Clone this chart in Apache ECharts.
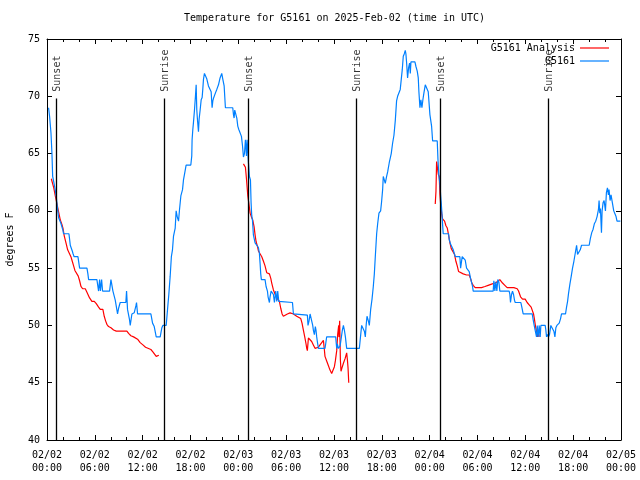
<!DOCTYPE html>
<html>
<head>
<meta charset="utf-8">
<script src="https://cdn.jsdelivr.net/npm/echarts@6/dist/echarts.min.js"></script>
<style>html,body{margin:0;padding:0;background:#fff}#c{width:640px;height:480px}</style>
</head>
<body>
<div id="c"></div>
<script>
// hours since 2025-02-02 00:00 UTC, temperature (F)
var obsData = [
[0.2,69],[0.33,68.2],[0.5,66.8],[0.62,65],[0.71,63],[0.83,62.6],[1.04,61.8],[1.17,61.2],[1.25,60.6],[1.46,59.4],[1.75,58.9],[2.0,58.3],[2.08,58],[2.75,58],
[2.84,57.5],[2.92,57],[3.13,57],[3.17,56.5],[3.25,56.3],[3.4,56],[3.88,56],[4.09,55],[5.01,55],[5.13,54.5],[5.22,54],[6.26,54],[6.47,53],[6.6,54],[6.7,53],[6.85,54],[6.97,53],[7.85,53],[8.02,54],[8.14,54],[8.27,53],
[8.56,52.2],[8.77,52.2],[8.85,51],[8.98,51.5],[9.18,52],[9.89,52],[9.98,53],[10.1,51.4],[10.35,50.5],[10.44,50],[10.65,51],[10.94,51.1],[11.15,51.7],[11.23,52],[11.36,51],[13.03,51],[13.24,50.2],[13.45,49.9],[13.7,49],[14.2,49],[14.41,49.8],[14.53,50],[14.95,50],
[15.12,51.4],[15.28,52.7],[15.45,54.3],[15.6,56],[15.74,56.6],[15.87,57.8],[16.08,58.5],[16.2,60],[16.33,59.5],[16.5,59.1],[16.62,60.1],[16.79,61.3],[17.0,61.85],[17.12,62.7],[17.25,63.2],[17.45,64],[18.04,64],[18.16,64.8],[18.2,66.2],[18.29,67.1],[18.37,67.7],[18.5,68.8],[18.62,70],[18.71,71],[18.79,68.8],[18.87,68],[19.0,66.9],[19.08,68],[19.21,68.8],[19.34,69.7],[19.46,69.9],[19.54,70.6],[19.63,71.5],[19.75,72],[19.92,72],[20.05,71.5],[20.25,70.9],[20.46,71],[20.59,70.4],[20.71,69],[20.8,69.6],[20.92,69.9],[21.13,70.3],[21.3,70.6],[21.51,71],[21.71,71.6],[21.92,72],[22.05,71.5],[22.22,70.9],[22.38,69],[23.3,69],
[23.39,68.4],[23.47,68.1],[23.55,68.8],[23.68,68.7],[23.81,68.1],[23.93,67.4],[24.06,67.1],[24.22,67.1],[24.39,66.5],[24.52,65.7],[24.64,64.7],[24.77,65],[24.89,66.2],[25.02,64.8],[25.1,66.2],[25.19,66.1],[25.27,64.2],[25.39,63],[25.52,62.7],[25.6,60.7],[25.68,59.6],[25.77,59.2],
[25.89,57.9],[26.1,57.2],[26.31,57.1],[26.52,56.8],[26.64,56.3],[26.73,55.4],[26.81,54.5],[26.89,54],[27.35,54],[27.48,53.4],[27.65,53],[27.73,52.5],[27.9,52],[27.98,52.5],[28.11,53],[28.28,53],[28.4,52.7],[28.53,52],[28.69,53],[28.82,52.1],[28.94,53],[29.07,52.1],[29.24,52],[30.79,52],[30.91,51],[32.66,50.9],[32.74,50],[32.87,50.4],[33.0,51],[33.12,51],[33.2,50.4],[33.33,50],[33.41,49.6],[33.54,49.2],[33.66,49.9],[33.74,49.6],[33.83,49],[33.91,48.6],[34.04,48],[34.87,48],[34.96,48.4],[35.08,49],[36.21,49],[36.34,48],[36.42,48.4],[36.55,48],[36.76,48.2],[36.93,49],[37.05,49.6],[37.18,50],[37.3,49.6],[37.43,49],[37.59,48],[39.18,48],
[39.35,49.2],[39.47,50],[39.68,50],[39.81,49.5],[39.93,49],[40.02,49.9],[40.14,50.8],[40.31,50.4],[40.43,50],[40.6,51.4],[40.77,52.3],[40.93,53.4],[41.06,54.5],[41.18,56],[41.35,58],[41.48,58.9],
[41.64,59.8],[41.85,60],[41.97,60.8],[42.1,61.85],[42.18,63],[42.31,62.7],[42.43,62.4],[42.6,63],[42.73,63.4],[42.93,64.2],[43.18,65],[43.35,65.9],[43.52,66.6],[43.69,67.9],[43.85,69.6],[43.98,70],[44.19,70.1],[44.31,70.6],[44.44,71.5],[44.56,72.3],[44.69,73.5],[44.81,73.7],[44.94,74],[45.02,73.7],[45.11,72.9],[45.23,71.6],[45.36,72.5],[45.48,72.9],[45.57,72],[45.65,73],[46.15,73],[46.28,72.6],[46.44,72.2],[46.57,71.6],[46.65,70.4],
[46.78,69],[46.9,69.7],[47.03,69],[47.15,69.7],[47.28,70.3],[47.45,71],[47.7,71],[47.82,70.4],[48.03,68.4],[48.24,67.4],[48.37,66.1],[48.95,66.1],[49.04,64.5],[49.16,63],[49.29,62.4],[49.37,61.4],[49.45,60.7],[49.54,59.8],[49.62,58.8],[49.7,58],[50.37,58],
[50.45,57.5],[50.62,57.1],[50.87,57],[50.96,56.6],[51.08,56.3],[51.21,56],[51.79,56],[51.88,55],[51.96,55.4],[52.08,56],[52.33,56],[52.46,55.7],[52.63,55],[52.79,55],[52.96,54.7],[53.13,54.1],[53.25,54],[53.38,53.4],[53.46,53],[55.97,53],[56.05,53.9],[56.18,53],[56.3,53.8],[56.43,53],[56.55,54],[56.68,53.8],[56.8,53],[57.97,53],[58.06,52.7],[58.14,52],[58.27,52.7],[58.39,53],[58.52,52.7],[58.64,52.2],[58.73,52],[59.44,52],[59.56,51.6],[59.73,51],[60.86,51],[60.98,50.5],[61.11,50],[61.32,50],[61.4,49],[61.49,50],[61.61,49],[61.74,50],[61.86,49],[61.95,50],[62.49,50],[62.57,49.6],[62.66,49],[62.78,49.2],[62.91,49],[63.03,49.2],[63.2,50],[63.41,50],[63.58,49.5],[63.71,49],[63.83,49.8],[63.96,50],[64.12,50],[64.25,50.2],[64.42,50.6],[64.54,51],[65.04,51],
[65.17,51.6],[65.3,52.1],[65.42,52.8],[65.59,53.6],[65.76,54.3],[65.92,55],[66.09,55.6],[66.26,56.3],[66.43,57],[66.55,56.2],[66.72,56.2],[66.89,56.6],[67.05,57],[68.01,57],[68.16,57.6],[68.33,58.1],[68.5,58.4],[68.67,58.9],[68.83,59.1],[69.0,59.5],[69.17,60.1],[69.25,60.9],[69.34,59.8],[69.42,60.2],[69.55,58.1],[69.63,60],[69.75,60.7],[69.88,60.9],[70.05,60],[70.17,61.6],[70.3,62],[70.42,61.4],[70.5,61.85],[70.63,60.9],[70.75,61.4],[70.92,60.7],[71.09,60],[71.21,60],[71.38,59.5],[71.5,59.1],[71.92,59.1]
];

var analysisSeg1 = [
[0.54,62.8],[0.75,62.8],[0.85,62.0],[1.04,61.3],[1.25,60.6],[1.46,59.9],[1.67,59.2],[1.88,58.8],[2.0,58.5],[2.17,57.8],[2.42,57.1],[2.59,56.6],[2.84,56.5],[3.0,56],[3.17,55.6],[3.34,55.2],[3.5,54.8],[3.75,54.7],[3.92,54.3],[4.09,53.9],[4.26,53.4],[4.47,53.2],[4.8,53.2],[5.01,52.9],[5.34,52.4],[5.63,52.1],[5.93,52.1],[6.18,51.9],[6.47,51.6],[6.68,51.4],[7.01,51.4],[7.18,50.8],[7.35,50.4],[7.51,50.1],[7.72,49.9],[8.02,49.8],[8.35,49.6],[8.69,49.5],[10.02,49.5],[10.23,49.3],[10.52,49.1],[10.86,49],[11.07,48.9],[11.36,48.8],[11.69,48.5],[12.03,48.3],[12.36,48.1],[12.61,48],[13.03,47.9],[13.28,47.7],[13.45,47.6],[13.7,47.3],[13.86,47.4],[14.03,47.4]
];
var analysisSeg2 = [
[24.64,64.1],[24.89,63.8],[25.02,62.8],[25.19,61.3],[25.31,60.7],[25.48,59.8],[25.68,59.4],[25.81,59.2],[25.98,58.6],[26.1,57.9],[26.23,57.3],[26.4,56.9],[26.52,56.5],[26.73,56.5],[26.94,56],[27.15,55.6],[27.35,55.2],[27.56,54.6],[27.9,54.5],[28.07,54.1],[28.19,53.7],[28.4,53.1],[28.74,52.5],[28.94,52.3],[29.15,52.1],[29.32,51.5],[29.49,51],[29.65,50.8],[29.86,50.9],[30.15,51],[30.49,51.1],[30.74,51.1],[30.91,51],[31.11,50.9],[31.32,50.8],[31.57,50.8],[31.83,50.6],[31.99,50.2],[32.16,49.6],[32.33,49],[32.49,48.4],[32.58,48],[32.66,47.8],[32.79,48.9],[33.0,48.9],[33.2,48.6],[33.41,48.3],[33.62,48],[33.83,47.9],[34.04,48.1],[34.25,48.3],[34.46,48.5],[34.67,48.7],[34.79,47.9],[34.87,47.3],[35.08,46.9],[35.29,46.5],[35.5,46.1],[35.71,45.8],[35.92,45.8],[36.05,46.4],[36.17,46.9],[36.34,47.8],[36.46,49.2],[36.59,50],[36.63,49],[36.71,50.4],[36.8,47],[36.88,46],[37.0,46.3],[37.18,46.7],[37.39,47.1],[37.59,47.6],[37.68,47],[37.76,46.3],[37.85,45],[37.93,45]
];
var analysisSeg3 = [
[48.7,60.6],[48.79,61.7],[48.87,64.3],[48.95,64.3],[49.08,63.2],[49.2,63],[49.29,61.4],[49.37,60.7],[49.5,59.8],[49.62,59.3],[49.87,59.1],[50.04,58.7],[50.21,58.5],[50.37,57.9],[50.54,57.2],[50.71,56.7],[50.96,56.6],[51.12,56.2],[51.29,55.6],[51.46,55.2],[51.63,54.7],[51.88,54.6],[52.21,54.5],[52.63,54.4],[52.96,54.4],[53.13,54.1],[53.29,53.7],[53.46,53.5],[53.71,53.3],[54.09,53.3],[54.51,53.3],[54.93,53.4],[55.34,53.5],[55.76,53.6],[56.18,53.7],[56.47,53.8],[56.8,54],[57.14,53.7],[57.43,53.5],[57.72,53.3],[58.14,53.3],[58.56,53.3],[58.98,53.2],[59.15,53],[59.4,52.5],[59.65,52.3],[59.98,52.3],[60.23,52],[60.48,51.8],[60.73,51.6],[60.9,51.5],[61.03,51],[61.15,50.5],[61.28,49.9],[61.4,49.5],[61.53,49],[61.65,49.5],[61.74,49]
];

var sunsetHours = [1.17, 25.26, 49.3];
var sunriseHours = [14.73, 38.8, 62.85];
var sunLineTop = 69.8;
var sunLabelY = 70.4;

var FONT = 'DejaVu Sans Mono';
var chart = echarts.init(document.getElementById('c'), null, {renderer: 'canvas'});

var sunLines = [];
var sunLabels = [];
sunsetHours.forEach(function (h) {
  sunLines.push([{coord: [h, 40]}, {coord: [h, sunLineTop]}]);
  sunLabels.push([h + 0.18, sunLabelY, 'Sunset']);
});
sunriseHours.forEach(function (h) {
  sunLines.push([{coord: [h, 40]}, {coord: [h, sunLineTop]}]);
  sunLabels.push([h + 0.18, sunLabelY, 'Sunrise']);
});

function xLabel(v) {
  var day = 2 + Math.floor(v / 24);
  var hh = v % 24;
  return '02/0' + day + '\n' + (hh < 10 ? '0' : '') + hh + ':00';
}

var redStyle = {color: '#ff0000', width: 1.2};
var blueStyle = {color: '#0080ff', width: 1.2};

var option = {
  animation: false,
  backgroundColor: '#fff',
  textStyle: {fontFamily: FONT, fontSize: 10, color: '#000'},
  title: {
    text: 'Temperature for G5161 on 2025-Feb-02 (time in UTC)',
    left: 184, top: 13, padding: 0,
    textStyle: {fontFamily: FONT, fontSize: 10, fontWeight: 'normal', color: '#000'}
  },
  legend: [
    {data: ['G5161 Analysis'], right: 31, top: 43, padding: 0, align: 'right', orient: 'vertical',
     itemWidth: 29, itemHeight: 12, icon: 'path://M0,6 L29,6 L29,7.2 L0,7.2 Z',
     textStyle: {fontFamily: FONT, fontSize: 10, color: '#000'}},
    {data: ['G5161'], right: 31, top: 56, padding: 0, align: 'right', orient: 'vertical',
     itemWidth: 29, itemHeight: 12, icon: 'path://M0,6 L29,6 L29,7.2 L0,7.2 Z',
     textStyle: {fontFamily: FONT, fontSize: 10, color: '#000'}}
  ],
  grid: {left: 47, right: 19, top: 39, bottom: 40, containLabel: false, outerBoundsMode: 'none'},
  xAxis: [
    {type: 'value', min: 0, max: 72, interval: 6, position: 'bottom',
     axisLine: {show: true, lineStyle: {color: '#000', width: 1}},
     axisTick: {show: true, inside: true, length: 5, lineStyle: {color: '#000'}},
     minorTick: {show: true, splitNumber: 3, length: 3, lineStyle: {color: '#000'}},
     splitLine: {show: false},
     axisLabel: {show: true, margin: 9, formatter: xLabel, fontFamily: FONT, fontSize: 10, color: '#000', lineHeight: 13,
       showMinLabel: true, showMaxLabel: true}},
    {type: 'value', min: 0, max: 72, interval: 6, position: 'top',
     axisLine: {show: true, onZero: false, lineStyle: {color: '#000', width: 1}},
     axisTick: {show: true, inside: true, length: 5, lineStyle: {color: '#000'}},
     minorTick: {show: true, splitNumber: 3, length: 3, lineStyle: {color: '#000'}},
     splitLine: {show: false}, axisLabel: {show: false}}
  ],
  yAxis: [
    {type: 'value', min: 40, max: 75, interval: 5, position: 'left',
     name: 'degrees F', nameLocation: 'middle', nameRotate: 90, nameGap: 32,
     nameTextStyle: {fontFamily: FONT, fontSize: 10, color: '#000'},
     axisLine: {show: true, lineStyle: {color: '#000', width: 1}},
     axisTick: {show: true, inside: true, length: 5, lineStyle: {color: '#000'}},
     splitLine: {show: false},
     axisLabel: {margin: 7, fontFamily: FONT, fontSize: 10, color: '#000', showMinLabel: true, showMaxLabel: true}},
    {type: 'value', min: 40, max: 75, interval: 5, position: 'right',
     axisLine: {show: true, onZero: false, lineStyle: {color: '#000', width: 1}},
     axisTick: {show: true, inside: true, length: 5, lineStyle: {color: '#000'}},
     splitLine: {show: false}, axisLabel: {show: false}}
  ],
  series: [
    {name: 'G5161 Analysis', type: 'line', data: analysisSeg1, symbol: 'none', lineStyle: redStyle, itemStyle: {color: '#ff0000'}, z: 2},
    {name: 'G5161 Analysis', type: 'line', data: analysisSeg2, symbol: 'none', lineStyle: redStyle, itemStyle: {color: '#ff0000'}, z: 2},
    {name: 'G5161 Analysis', type: 'line', data: analysisSeg3, symbol: 'none', lineStyle: redStyle, itemStyle: {color: '#ff0000'}, z: 2},
    {name: 'G5161', type: 'line', data: obsData, symbol: 'none', lineStyle: blueStyle, itemStyle: {color: '#0080ff'}, z: 3},
    {name: 'sun', type: 'line', data: [], symbol: 'none', silent: true, z: 4,
     markLine: {silent: true, symbol: ['none', 'none'], animation: false,
       lineStyle: {color: '#000', width: 1.3, type: 'solid'},
       label: {show: false}, data: sunLines}},
    {name: 'sunLabels', type: 'scatter', data: sunLabels, symbolSize: 0, silent: true, z: 1,
     label: {show: true, position: 'inside', rotate: 90, align: 'left', verticalAlign: 'middle',
       formatter: function (p) { return p.data[2]; },
       fontFamily: FONT, fontSize: 10, color: '#000'}}
  ]
};
chart.setOption(option);
</script>
</body>
</html>
